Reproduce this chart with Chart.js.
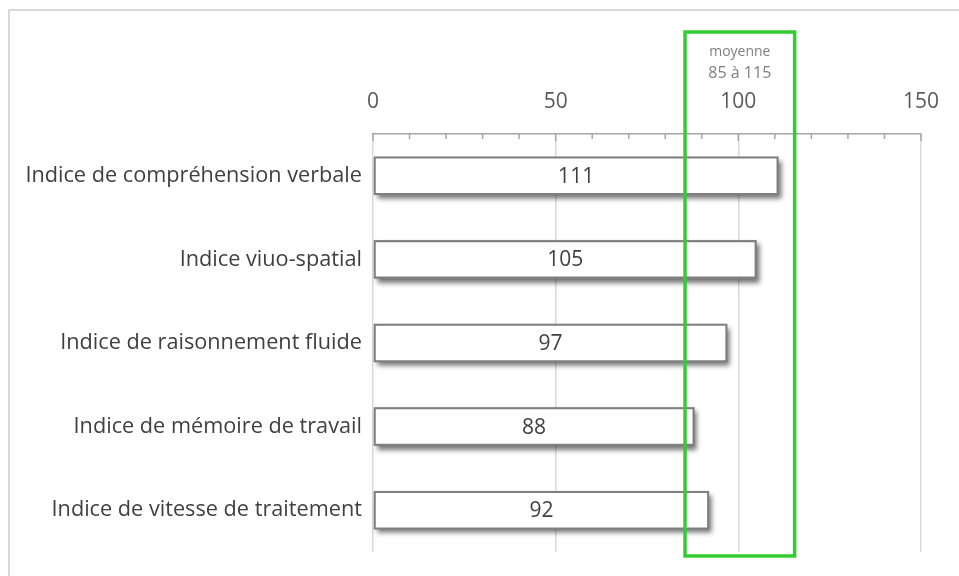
<!DOCTYPE html>
<html>
<head>
<meta charset="utf-8">
<script src="https://cdn.jsdelivr.net/npm/chart.js@4"></script>
<style>
html,body{margin:0;padding:0;background:#fff;}
#wrap{width:959px;height:576px;position:relative;}
</style>
</head>
<body>
<div id="wrap"><canvas id="c" width="959" height="576"></canvas></div>
<script>
const categories = [
  "Indice de compréhension verbale",
  "Indice viuo-spatial",
  "Indice de raisonnement fluide",
  "Indice de mémoire de travail",
  "Indice de vitesse de traitement"
];
const scores = [111, 105, 97, 88, 92];
const xTicks = [0, 50, 100, 150];
const meanRange = [85, 115];
const meanLabel = ["moyenne", "85 à 115"];

const FONT = "'Open Sans', 'Liberation Sans', sans-serif";

const framePlugin = {
  id: 'frame',
  beforeDraw(chart) {
    const ctx = chart.ctx;
    ctx.save();
    ctx.strokeStyle = '#d9d9d9';
    ctx.lineWidth = 2;
    ctx.strokeRect(9, 10, 1000, 1000);
    ctx.restore();
  }
};

const shadowPlugin = {
  id: 'barShadow',
  beforeDatasetsDraw(chart) {
    const ctx = chart.ctx;
    const meta = chart.getDatasetMeta(0);
    ctx.save();
    ctx.shadowColor = 'rgba(0,0,0,0.55)';
    ctx.shadowBlur = 5;
    ctx.shadowOffsetX = 3;
    ctx.shadowOffsetY = 4;
    ctx.fillStyle = '#7f7f7f';
    meta.data.forEach(el => {
      const p = el.getProps(['x', 'y', 'base', 'height'], true);
      ctx.fillRect(p.base, p.y - p.height / 2, p.x - p.base, p.height);
    });
    ctx.restore();
  }
};

const minorTickPlugin = {
  id: 'minorTicks',
  afterDatasetsDraw(chart) {
    const ctx = chart.ctx;
    const xs = chart.scales.x;
    const top = chart.chartArea.top;
    ctx.save();
    ctx.strokeStyle = '#a6a6a6';
    ctx.lineWidth = 1.5;
    for (let v = xs.min; v <= xs.max; v += 10) {
      const px = xs.getPixelForValue(v);
      const len = (v % 50 === 0) ? 7 : 5;
      ctx.beginPath();
      ctx.moveTo(px, top);
      ctx.lineTo(px, top + len);
      ctx.stroke();
    }
    ctx.restore();
  }
};

const labelPlugin = {
  id: 'valueLabels',
  afterDatasetsDraw(chart) {
    const ctx = chart.ctx;
    const meta = chart.getDatasetMeta(0);
    ctx.save();
    ctx.font = '21px ' + FONT;
    ctx.fillStyle = '#404040';
    ctx.textAlign = 'center';
    ctx.textBaseline = 'middle';
    meta.data.forEach((el, i) => {
      const p = el.getProps(['x', 'y', 'base'], true);
      ctx.fillText(String(scores[i]), (p.x + p.base) / 2, p.y + 1);
    });
    ctx.restore();
  }
};

const meanBoxPlugin = {
  id: 'meanBox',
  afterDraw(chart) {
    const ctx = chart.ctx;
    const xs = chart.scales.x;
    const ca = chart.chartArea;
    const x1 = xs.getPixelForValue(meanRange[0]) + 1.5;
    const x2 = xs.getPixelForValue(meanRange[1]) + 1.5;
    const top = 32, bottom = ca.bottom + 4;
    ctx.save();
    ctx.strokeStyle = '#33cc33';
    ctx.lineWidth = 3.5;
    ctx.strokeRect(x1, top, x2 - x1, bottom - top);
    ctx.fillStyle = '#808080';
    ctx.textAlign = 'center';
    ctx.textBaseline = 'middle';
    const cx = (x1 + x2) / 2;
    ctx.font = '14px ' + FONT;
    ctx.fillText(meanLabel[0], cx, 52);
    ctx.font = '16px ' + FONT;
    ctx.fillText(meanLabel[1], cx, 73);
    ctx.restore();
  }
};

new Chart(document.getElementById('c'), {
  type: 'bar',
  data: {
    labels: categories,
    datasets: [{
      data: scores,
      backgroundColor: '#ffffff',
      borderColor: '#7f7f7f',
      borderWidth: 2,
      borderSkipped: false,
      barPercentage: 0.92,
      categoryPercentage: 0.5
    }]
  },
  options: {
    indexAxis: 'y',
    responsive: false,
    animation: false,
    devicePixelRatio: 1,
    layout: { padding: { left: 0, right: 38, top: 0, bottom: 16 } },
    plugins: {
      legend: { display: false },
      tooltip: { enabled: false }
    },
    scales: {
      x: {
        position: 'top',
        min: 0,
        max: 150,
        afterBuildTicks(scale) {
          scale.ticks = xTicks.map(v => ({ value: v }));
        },
        afterFit(scale) { scale.height = 134; },
        grid: {
          color: '#d9d9d9',
          lineWidth: 1.5,
          drawTicks: false
        },
        border: { display: true, color: '#a6a6a6', width: 1.5 },
        ticks: {
          padding: 19,
          font: { size: 21, family: FONT },
          color: '#595959'
        }
      },
      y: {
        afterFit(scale) { scale.width = 373; },
        grid: { display: false, drawTicks: false },
        border: { display: false },
        ticks: {
          padding: 11,
          font: { size: 21.7, family: FONT },
          color: '#404040'
        }
      }
    }
  },
  plugins: [framePlugin, shadowPlugin, minorTickPlugin, labelPlugin, meanBoxPlugin]
});
</script>
</body>
</html>
